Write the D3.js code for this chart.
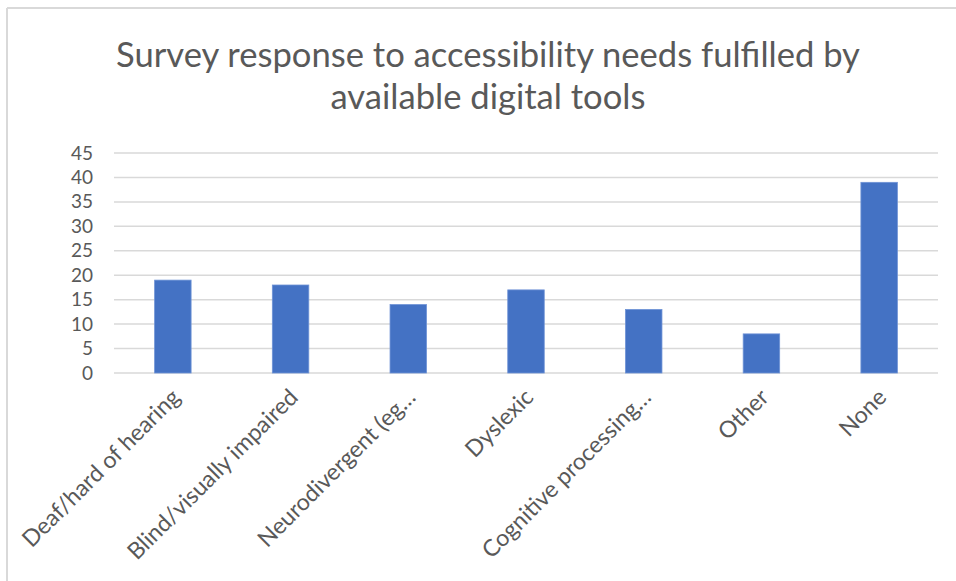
<!DOCTYPE html>
<html><head><meta charset="utf-8">
<script src="https://cdn.jsdelivr.net/npm/d3@7"></script>
<style>body{margin:0;background:#fff;} svg{display:block;}</style>
</head><body>
<svg id="c" width="956" height="581"></svg>
<script>
const categories = ["Deaf/hard of hearing","Blind/visually impaired","Neurodivergent (eg…","Dyslexic","Cognitive processing…","Other","None"];
const values = [19, 18, 14, 17, 13, 8, 39];
const yTicks = [0,5,10,15,20,25,30,35,40,45];
const titleLines = ["Survey response to accessibility needs fulfilled by","available digital tools"];

const svg = d3.select("#c");
const font = "Lato, 'Open Sans', sans-serif";
const grey = "#595959";

// chart border (top and left visible)
svg.append("line").attr("x1",7).attr("x2",956).attr("y1",8).attr("y2",8).attr("stroke","#d9d9d9").attr("stroke-width",2);
svg.append("line").attr("x1",7).attr("x2",7).attr("y1",8).attr("y2",581).attr("stroke","#d9d9d9").attr("stroke-width",2);

const x = d3.scaleBand().domain(categories).range([114, 938]).paddingInner(0.69).paddingOuter(0.345);
const y = d3.scaleLinear().domain([0,45]).range([373,153]);

// gridlines
svg.append("g").selectAll("line").data(yTicks).join("line")
  .attr("x1",114).attr("x2",938).attr("y1",d=>y(d)).attr("y2",d=>y(d))
  .attr("stroke","#d9d9d9").attr("stroke-width",1.5);

// y axis labels
const yAxis = d3.axisLeft(y).tickValues(yTicks).tickSize(0).tickPadding(0);
const gy = svg.append("g").attr("transform","translate(93,0)").call(yAxis);
gy.select(".domain").remove();
gy.selectAll("text").attr("font-family",font).attr("font-size",19).attr("fill",grey);

// bars
svg.append("g").selectAll("rect").data(values).join("rect")
  .attr("x",(d,i)=>x(categories[i])).attr("width",x.bandwidth())
  .attr("y",d=>y(d)).attr("height",d=>y(0)-y(d))
  .attr("fill","#4472c4").attr("stroke","#6f93d6").attr("stroke-width",0.8);

// x labels
const xl = svg.append("g").selectAll("text").data(categories).join("text")
  .attr("transform",d=>`translate(${x(d)+x.bandwidth()/2+3},${393}) rotate(-45)`)
  .attr("text-anchor","end").attr("dy","0.35em")
  .attr("font-family",font).attr("font-size",18).attr("fill",grey)
  .text(d=>d);
const lw = xl.nodes()[0].getComputedTextLength();
xl.attr("font-size",18*212/lw);

// title
const t = svg.append("g").selectAll("text").data(titleLines).join("text")
  .attr("x",488).attr("y",(d,i)=>67+i*42)
  .attr("text-anchor","middle").attr("font-family",font).attr("font-size",29).attr("fill",grey)
  .text(d=>d);
const w0 = t.nodes()[0].getComputedTextLength();
t.attr("font-size",29*744/w0);
</script>
</body></html>
